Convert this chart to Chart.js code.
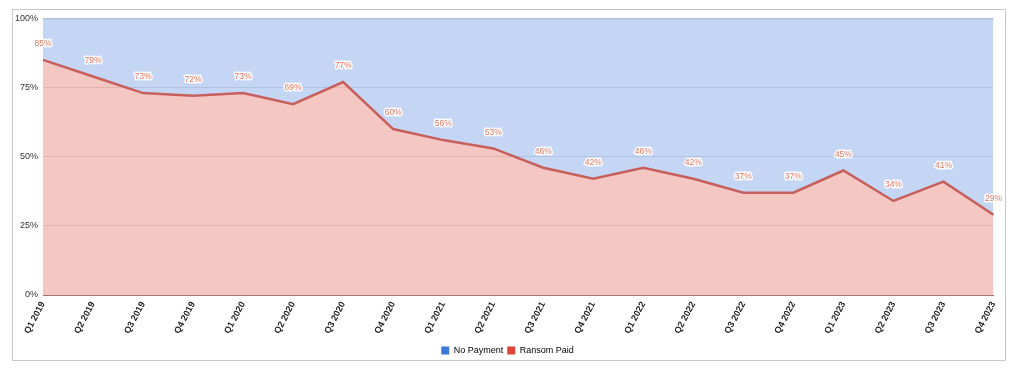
<!DOCTYPE html>
<html>
<head>
<meta charset="utf-8">
<script src="https://cdn.jsdelivr.net/npm/chart.js@4"></script>
<style>
  html, body { margin: 0; padding: 0; background: #fff; }
  body { width: 1024px; height: 376px; position: relative; overflow: hidden; }
  #box { position: absolute; left: 12px; top: 9px; width: 994px; height: 352px; box-sizing: border-box; border: 1px solid #c8c8c8; }
  #wrap { position: absolute; left: 0; top: -2px; width: 995px; height: 357px; }
</style>
</head>
<body>
<div id="box"><div id="wrap"><canvas id="c"></canvas></div></div>
<script>
const categories = ["Q1 2019","Q2 2019","Q3 2019","Q4 2019","Q1 2020","Q2 2020","Q3 2020","Q4 2020","Q1 2021","Q2 2021","Q3 2021","Q4 2021","Q1 2022","Q2 2022","Q3 2022","Q4 2022","Q1 2023","Q2 2023","Q3 2023","Q4 2023"];
const ransomPaid = [85,79,73,72,73,69,77,60,56,53,46,42,46,42,37,37,45,34,41,29];
const noPayment = [15,21,27,28,27,31,23,40,44,47,54,58,54,58,63,63,55,66,59,71];
const yTicks = [0,25,50,75,100];

const FONT = '"Liberation Sans", Arial, sans-serif';

const labelPlugin = {
  id: 'pointLabels',
  afterDatasetsDraw(chart) {
    const meta = chart.getDatasetMeta(0);
    const ctx = chart.ctx;
    ctx.save();
    ctx.font = '8.5px ' + FONT;
    ctx.textAlign = 'center';
    ctx.textBaseline = 'middle';
    ctx.lineJoin = 'round';
    meta.data.forEach((pt, i) => {
      const t = ransomPaid[i] + '%';
      const x = pt.x, y = pt.y - 16;
      ctx.strokeStyle = 'rgba(255,255,255,0.95)';
      ctx.lineWidth = 3;
      ctx.strokeText(t, x, y);
      ctx.fillStyle = '#e07a64';
      ctx.fillText(t, x, y);
    });
    ctx.restore();
  }
};

new Chart(document.getElementById('c'), {
  type: 'line',
  data: {
    labels: categories,
    datasets: [
      {
        label: 'Ransom Paid',
        data: ransomPaid,
        borderColor: '#c75f5c',
        borderWidth: 2.5,
        backgroundColor: 'rgba(219,68,55,0.30)',
        fill: 'origin',
        pointRadius: 0,
        tension: 0,
        legendColor: '#db4437'
      },
      {
        label: 'No Payment',
        data: noPayment,
        borderColor: '#8aa3cf',
        borderWidth: 1.5,
        backgroundColor: 'rgba(60,120,216,0.30)',
        fill: '-1',
        pointRadius: 0,
        tension: 0,
        legendColor: '#3c78d8'
      }
    ]
  },
  options: {
    responsive: true,
    maintainAspectRatio: false,
    animation: false,
    layout: { padding: { top: 4, right: 6, left: 0, bottom: 0 } },
    plugins: {
      tooltip: { enabled: false },
      legend: {
        position: 'bottom',
        labels: {
          boxWidth: 8,
          boxHeight: 8,
          padding: 4,
          color: '#555',
          font: { family: FONT, size: 9 },
          sort: (a, b) => b.datasetIndex - a.datasetIndex,
          generateLabels(chart) {
            return chart.data.datasets.map((ds, i) => ({
              text: ds.label,
              fillStyle: ds.legendColor,
              strokeStyle: ds.legendColor,
              lineWidth: 0,
              datasetIndex: i,
              hidden: false
            }));
          }
        }
      }
    },
    scales: {
      x: {
        offset: false,
        grid: { display: false, drawTicks: false },
        border: { display: true, color: '#a07370', width: 1 },
        ticks: {
          autoSkip: false,
          minRotation: 62,
          maxRotation: 62,
          padding: 5,
          color: '#222',
          font: { family: FONT, size: 9, weight: 'bold' }
        },
        afterFit(s) { s.height = 47; }
      },
      y: {
        stacked: true,
        min: 0,
        max: 100,
        afterBuildTicks(s) { s.ticks = yTicks.map(v => ({ value: v })); },
        grid: { color: 'rgba(120,120,120,0.2)', drawTicks: false },
        border: { display: false },
        ticks: {
          padding: 5,
          color: '#333',
          font: { family: FONT, size: 9 },
          callback: v => v + '%'
        },
        afterFit(s) { s.width = 30; }
      }
    }
  },
  plugins: [labelPlugin]
});
</script>
</body>
</html>
